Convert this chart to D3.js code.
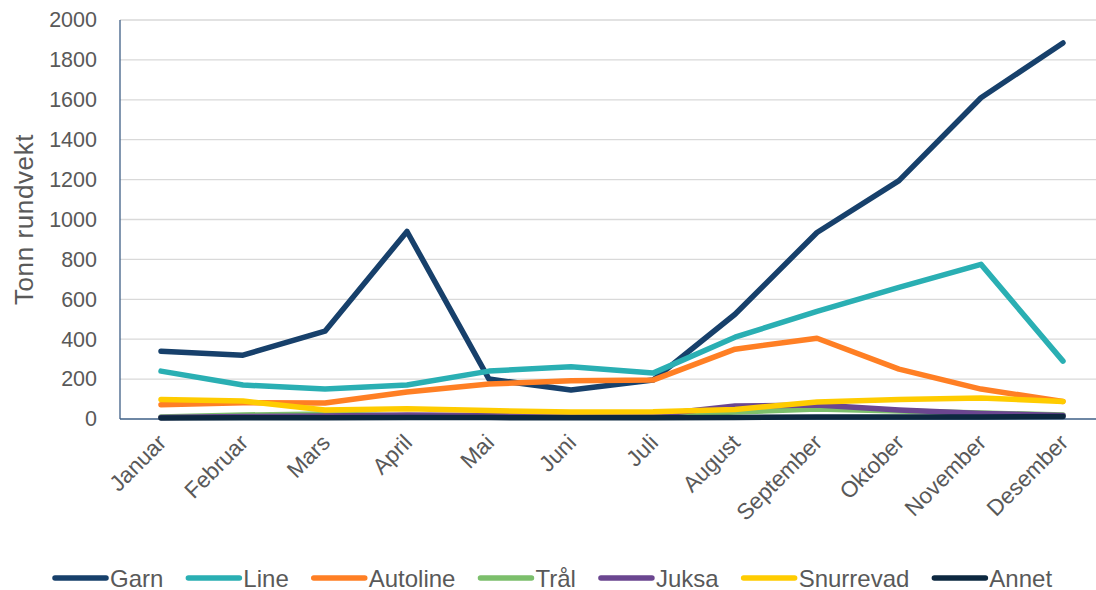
<!DOCTYPE html>
<html><head><meta charset="utf-8">
<script src="https://cdn.jsdelivr.net/npm/d3@7"></script>
<style>
html,body{margin:0;padding:0;background:#fff;overflow:hidden}
text{font-family:"Liberation Sans",Arial,sans-serif}
</style></head>
<body>
<svg id="c" width="1096" height="590"></svg>
<script>
const months = ["Januar","Februar","Mars","April","Mai","Juni","Juli","August","September","Oktober","November","Desember"];
const yTicks = [0,200,400,600,800,1000,1200,1400,1600,1800,2000];
const seriesNames = ["Garn","Line","Autoline","Trål","Juksa","Snurrevad","Annet"];
const garn      = [340, 320, 440, 940, 200, 145, 195, 525, 935, 1195, 1610, 1885];
const line      = [240, 170, 150, 170, 240, 262, 230, 410, 540, 660, 775, 290];
const autoline  = [72, 82, 80, 135, 175, 192, 195, 350, 405, 250, 150, 88];
const tral      = [10, 20, 25, 15, 15, 12, 20, 35, 50, 40, 30, 20];
const juksa     = [8, 12, 15, 20, 18, 15, 20, 65, 70, 45, 28, 18];
const snurrevad = [98, 90, 45, 52, 42, 35, 36, 48, 85, 98, 105, 88];
const annet     = [5, 6, 6, 8, 7, 6, 6, 8, 10, 10, 10, 12];
const colors = ["#17406B","#2AAFB3","#FF7F24","#7CBF6C","#6B4690","#FFCC00","#0D2840"];
const seriesData = [garn, line, autoline, tral, juksa, snurrevad, annet];

const svg = d3.select("#c");
const L = 120, T = 20, B = 419, R = 1104;
const x = d3.scalePoint().domain(months).range([L, R]).padding(0.5);
const y = d3.scaleLinear().domain([0, 2000]).range([B, T]);

// gridlines
svg.append("g").selectAll("line").data(yTicks.filter(d => d > 0)).join("line")
  .attr("x1", L).attr("x2", R).attr("y1", d => y(d)).attr("y2", d => y(d))
  .attr("stroke", "#d9d9d9").attr("stroke-width", 1.3);

// y axis
const yAxis = svg.append("g").attr("transform", `translate(${L},0)`)
  .call(d3.axisLeft(y).tickValues(yTicks).tickFormat(d3.format("d")).tickSize(0).tickPadding(23));
yAxis.select(".domain").remove();
yAxis.selectAll("text").attr("fill", "#595959").attr("font-size", 21.5);

// x axis
const xAxis = svg.append("g").attr("transform", `translate(0,${B})`)
  .call(d3.axisBottom(x).tickSize(0).tickPadding(0));
xAxis.select(".domain").remove();
xAxis.selectAll("text")
  .attr("fill", "#595959").attr("font-size", 22.5)
  .attr("text-anchor", "end")
  .attr("dy", 0)
  .attr("transform", "translate(6,25) rotate(-45)");

// axis lines
svg.append("line").attr("x1", L).attr("x2", L).attr("y1", T).attr("y2", B)
  .attr("stroke", "#3E5F86").attr("stroke-width", 1.3);
svg.append("line").attr("x1", L).attr("x2", R).attr("y1", B).attr("y2", B)
  .attr("stroke", "#3E5F86").attr("stroke-width", 1.3);

// axis title
svg.append("text").attr("transform", `translate(33,${(T+B)/2}) rotate(-90)`)
  .attr("text-anchor", "middle").attr("font-size", 26).attr("letter-spacing", 0.6)
  .attr("fill", "#595959")
  .text("Tonn rundvekt");

// lines
const lineGen = d3.line().x((d, i) => x(months[i])).y(d => y(d));
svg.append("g").selectAll("path").data(seriesData).join("path")
  .attr("d", d => lineGen(d))
  .attr("fill", "none")
  .attr("stroke", (d, i) => colors[i])
  .attr("stroke-width", 5.5)
  .attr("stroke-linejoin", "round")
  .attr("stroke-linecap", "round");

// legend
const lg = svg.append("g");
let cx = 55;
seriesNames.forEach((n, i) => {
  lg.append("line").attr("x1", cx).attr("x2", cx + 51).attr("y1", 578).attr("y2", 578)
    .attr("stroke", colors[i]).attr("stroke-width", 5.5).attr("stroke-linecap", "round");
  const t = lg.append("text").attr("x", cx + 55).attr("y", 586.5)
    .attr("font-size", 24).attr("fill", "#595959").text(n);
  const w = t.node().getComputedTextLength();
  cx += 55 + w + 25;
});
</script>
</body></html>
